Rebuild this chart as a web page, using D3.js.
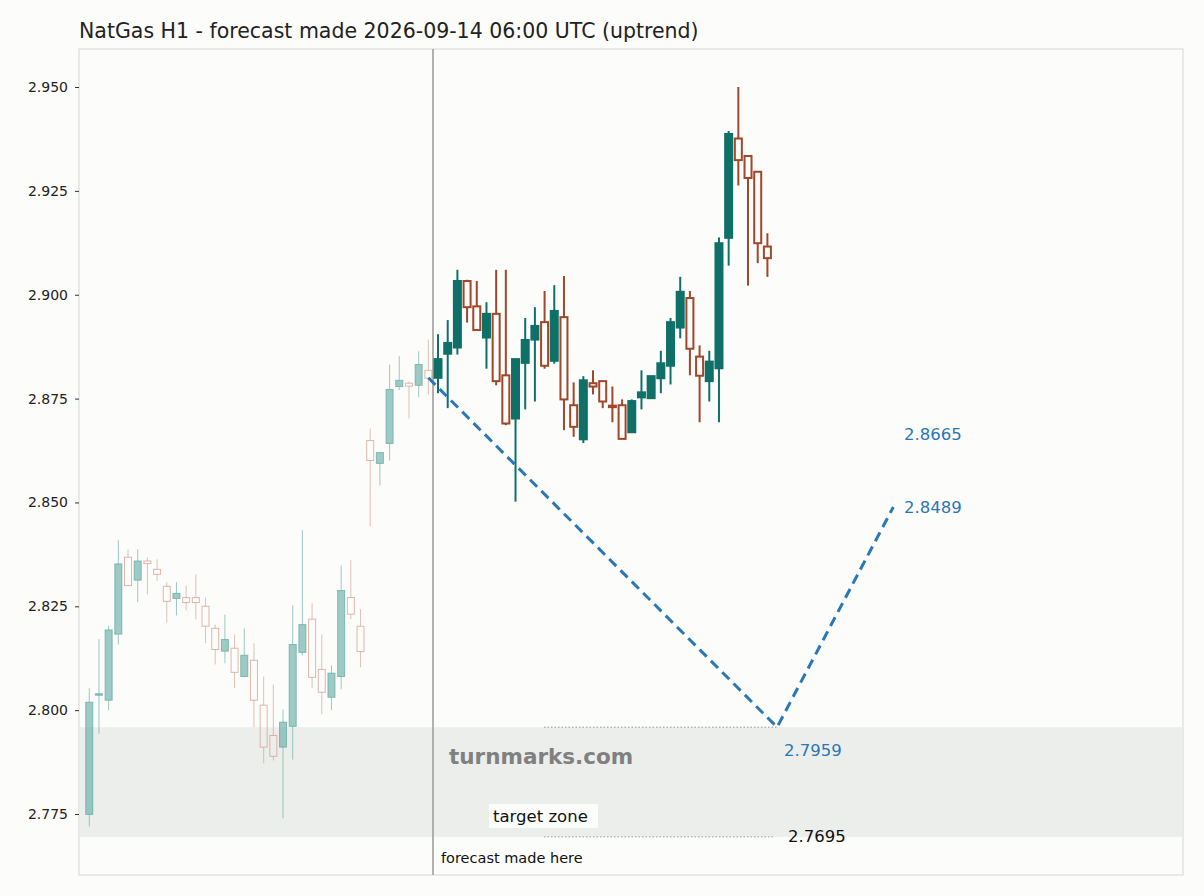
<!DOCTYPE html><html><head><meta charset="utf-8"><script src="https://cdn.jsdelivr.net/npm/d3@7"></script>
<style>body{margin:0;background:#fcfcfa;font-family:"DejaVu Sans",sans-serif}</style></head><body><svg id="c" width="1204" height="896"></svg><script>
const histO=[2.7749,2.8039,2.8024,2.8183,2.8368,2.8313,2.8359,2.8339,2.8298,2.8269,2.8271,2.8271,2.8250,2.8197,2.8142,2.8149,2.8081,2.8120,2.8012,2.7939,2.7911,2.7961,2.8139,2.8219,2.8098,2.8031,2.8081,2.8271,2.8202,2.8649,2.8594,2.8642,2.8779,2.8787,2.8782,2.8818];
const histH=[2.8053,2.8171,2.8203,2.8409,2.8387,2.8387,2.8368,2.8363,2.8308,2.8308,2.8300,2.8327,2.8271,2.8206,2.8230,2.8182,2.8197,2.8161,2.8081,2.8062,2.8002,2.8252,2.8433,2.8257,2.8182,2.8108,2.8348,2.8361,2.8243,2.8678,2.8620,2.8832,2.8852,2.8791,2.8864,2.8892];
const histL=[2.7720,2.7943,2.8000,2.8158,2.8300,2.8260,2.8279,2.8311,2.8211,2.8228,2.8240,2.8219,2.8161,2.8110,2.8113,2.8053,2.8081,2.7959,2.7872,2.7879,2.7740,2.7881,2.8132,2.8053,2.7990,2.8000,2.8050,2.8219,2.8103,2.8442,2.8541,2.8601,2.8770,2.8702,2.8753,2.8760];
const histC=[2.8019,2.80395,2.8193,2.8352,2.8300,2.8359,2.8353,2.8327,2.8262,2.8281,2.8259,2.8259,2.8202,2.8146,2.8170,2.8091,2.8132,2.8024,2.7911,2.7889,2.7971,2.8158,2.8206,2.8079,2.8043,2.8089,2.8288,2.8231,2.8141,2.8601,2.8620,2.8772,2.8794,2.8780,2.8832,2.8799];
const futO=[2.8800,2.8858,2.8873,2.9033,2.8972,2.8897,2.8954,2.8806,2.8702,2.8836,2.8892,2.8934,2.8841,2.8946,2.8734,2.8652,2.8787,2.8792,2.8733,2.8734,2.8669,2.8753,2.8751,2.8799,2.8829,2.8921,2.8992,2.8851,2.8792,2.8823,2.9137,2.9376,2.9334,2.9296,2.9116];
const futH=[2.8905,2.8939,2.9060,2.9036,2.9033,2.8982,2.9060,2.9060,2.8845,2.8944,2.8970,2.9009,2.9023,2.9045,2.8789,2.8804,2.8818,2.8792,2.8779,2.8748,2.8748,2.8818,2.8804,2.8865,2.8944,2.9043,2.9009,2.8878,2.8865,2.9138,2.9394,2.9500,2.9334,2.9296,2.9148];
const futL=[2.8763,2.8727,2.8856,2.8933,2.8915,2.8822,2.8782,2.8686,2.8502,2.8724,2.8743,2.8822,2.8834,2.8674,2.8658,2.8643,2.8760,2.8727,2.8693,2.8653,2.8669,2.8724,2.8751,2.8763,2.8784,2.8895,2.8806,2.8693,2.8743,2.8693,2.9070,2.9263,2.9022,2.9076,2.9043];
const futC=[2.8845,2.8884,2.9033,2.8970,2.8915,2.8954,2.8792,2.8690,2.8845,2.8891,2.8925,2.8829,2.8961,2.8748,2.8682,2.8794,2.8779,2.8743,2.8731,2.8653,2.8744,2.8765,2.8804,2.8835,2.8934,2.9007,2.8870,2.8805,2.8839,2.9124,2.9387,2.9324,2.9281,2.9124,2.9088];
const forecastIdx=[35,71,83], forecastVal=[2.8800,2.7959,2.8489];
const zoneLow=2.7695, zoneHigh=2.7959;
const yTicks=[2.775,2.800,2.825,2.850,2.875,2.900,2.925,2.950];
const rightLabels=[2.8665,2.8489];

const svg=d3.select("#c");
const L=79,R=1183,T=49,B=875;
const x=d3.scaleLinear().domain([-1.06,112.9]).range([L,R]);
const y=d3.scaleLinear().domain([2.76032,2.95915]).range([B,T]);
svg.append("rect").attr("x",L).attr("y",T).attr("width",R-L).attr("height",B-T).attr("fill","#fcfcfa").attr("stroke","#d6d6d6");
svg.append("rect").attr("x",L+1).attr("width",R-L-2).attr("y",y(zoneHigh)).attr("height",y(zoneLow)-y(zoneHigh)).attr("fill","#eceeec");
const ax=svg.append("g").attr("transform",`translate(${L},0)`).call(d3.axisLeft(y).tickValues(yTicks).tickFormat(d3.format(".3f")).tickSize(4));
ax.select(".domain").remove();
ax.selectAll("line").attr("stroke","#333");
ax.selectAll("text").attr("font-size",14).attr("fill","#222").attr("font-family","DejaVu Sans").attr("dx",-4);
svg.append("text").attr("x",79).attr("y",38).attr("font-size",20.5).attr("fill","#222").text("NatGas H1 - forecast made 2026-09-14 06:00 UTC (uptrend)");
const vx=433;
svg.append("line").attr("x1",vx).attr("x2",vx).attr("y1",T).attr("y2",B).attr("stroke","#999").attr("stroke-width",1.5);
function candles(O,H,Lo,C,off,up,dn,hist){
  const g=svg.append("g");
  O.forEach((o,i)=>{const c=C[i],cx=x(i+off),isUp=c>=o,col=isUp?up:dn;
    const top=y(Math.max(o,c)),bot=y(Math.min(o,c));
    g.append("line").attr("x1",cx).attr("x2",cx).attr("y1",y(H[i])).attr("y2",top).attr("stroke",col).attr("stroke-width",hist?1:2).attr("opacity",hist?0.6:1);
    g.append("line").attr("x1",cx).attr("x2",cx).attr("y1",bot).attr("y2",y(Lo[i])).attr("stroke",col).attr("stroke-width",hist?1:2).attr("opacity",hist?0.6:1);
    const h=Math.max(bot-top,1.5);
    g.append("rect").attr("x",cx-3.5).attr("width",7).attr("y",top).attr("height",h)
     .attr("fill",isUp?col:"none").attr("fill-opacity",hist?0.6:1)
     .attr("stroke",col).attr("stroke-width",hist?1:2).attr("stroke-opacity",hist?0.7:1);
  });
}
candles(histO,histH,histL,histC,0,"#5ea8a1","#d49a88",true);
candles(futO,futH,futL,futC,36,"#0f7068","#a0472a",false);
svg.append("line").attr("x1",544).attr("x2",x(71)).attr("y1",y(zoneHigh)).attr("y2",y(zoneHigh)).attr("stroke","#999").attr("stroke-dasharray","1.5,2");
svg.append("line").attr("x1",544).attr("x2",773).attr("y1",y(zoneLow)).attr("y2",y(zoneLow)).attr("stroke","#999").attr("stroke-dasharray","1.5,2");
svg.append("path").attr("d",d3.line().x(d=>x(d[0])).y(d=>y(d[1]))(forecastIdx.map((d,i)=>[d,forecastVal[i]])))
 .attr("fill","none").attr("stroke","#2a77b4").attr("stroke-width",3).attr("stroke-dasharray","10,6");
svg.append("text").attr("x",449).attr("y",764).attr("font-size",21.5).attr("font-weight","bold").attr("fill","#808080").text("turnmarks.com");
svg.append("rect").attr("x",489).attr("y",804).attr("width",109).attr("height",24).attr("fill","#fff").attr("opacity",0.8);
svg.append("text").attr("x",493).attr("y",822).attr("font-size",16.5).attr("fill","#111").text("target zone");
svg.append("text").attr("x",441).attr("y",863).attr("font-size",14.5).attr("fill","#111").text("forecast made here");
svg.append("text").attr("x",784).attr("y",756).attr("font-size",16.5).attr("fill","#2a77b4").text(d3.format(".4f")(zoneHigh));
svg.append("text").attr("x",788).attr("y",842).attr("font-size",16.5).attr("fill","#111").text(d3.format(".4f")(zoneLow));
rightLabels.forEach(v=>svg.append("text").attr("x",904).attr("y",y(v)+6).attr("font-size",16.5).attr("fill","#2a77b4").text(d3.format(".4f")(v)));
</script></body></html>
